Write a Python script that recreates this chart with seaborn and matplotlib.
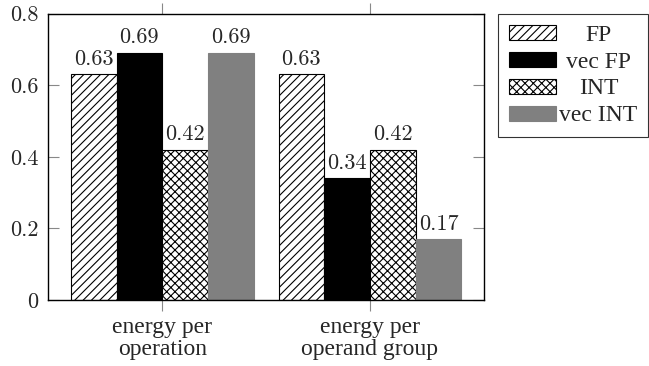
import matplotlib
matplotlib.use('Agg')
import matplotlib.pyplot as plt
import pandas as pd
import seaborn as sns

# Data
metrics = ['energy per\noperation', 'energy per\noperand group']
series = ['FP', 'vec FP', 'INT', 'vec INT']
fp = [0.63, 0.63]
vec_fp = [0.69, 0.34]
int_vals = [0.42, 0.42]
vec_int = [0.69, 0.17]
y_ticks = [0, 0.2, 0.4, 0.6, 0.8]
y_tick_labels = ['0', '0.2', '0.4', '0.6', '0.8']

df = pd.DataFrame({
    'metric': metrics * 4,
    'series': [s for s in series for _ in metrics],
    'value': fp + vec_fp + int_vals + vec_int,
})

sns.set_style('ticks')
plt.rcParams['font.family'] = ['Liberation Serif', 'DejaVu Serif']
plt.rcParams['hatch.linewidth'] = 0.8

num_font = 'cmr10'
num_fs = 16
txt_fs = 17

fig = plt.figure(figsize=(6.49, 3.66), dpi=100)
ax = fig.add_axes([0.074, 0.180, 0.672, 0.783])

palette = {'FP': 'white', 'vec FP': 'black', 'INT': 'white', 'vec INT': '#808080'}
sns.barplot(data=df, x='metric', y='value', hue='series', hue_order=series,
            palette=palette, width=0.88, gap=0, saturation=1, ax=ax)
ax.get_legend().remove()

styles = [('////', 'black'), ('', 'black'), ('xxxx', 'black'), ('', '#808080')]
for cont, (hatch, ec) in zip(ax.containers, styles):
    for p in cont.patches:
        p.set_hatch(hatch)
        p.set_edgecolor(ec)
        p.set_linewidth(0.8)
    ax.bar_label(cont, fmt='%.2f', padding=4, fontsize=num_fs, fontfamily=num_font)

ax.set_xlim(-0.55, 1.55)
ax.set_ylim(0, 0.8)
ax.set_yticks(y_ticks)
ax.set_yticklabels(y_tick_labels, fontfamily=num_font, fontsize=num_fs)
ax.set_xlabel('')
ax.set_ylabel('')
for s in ax.spines.values():
    s.set_visible(True)
    s.set_linewidth(1.0)
    s.set_color('black')

ax.tick_params(axis='y', direction='in', left=True, right=True, length=8,
               color='#888888', pad=7)
ax.tick_params(axis='x', direction='out', top=True, bottom=True, length=8,
               color='#888888', pad=4, labelsize=txt_fs)
for t in ax.get_xticklabels():
    t.set_linespacing(1.05)

handles = [c.patches[0] for c in ax.containers]
leg = ax.legend(handles, series, loc='upper left',
                bbox_to_anchor=(498 / 649, 1 - 14 / 366),
                bbox_transform=fig.transFigure, borderaxespad=0,
                frameon=True, fancybox=False, edgecolor='black',
                fontsize=txt_fs, handlelength=2.0, handleheight=0.6,
                labelspacing=0.25, handletextpad=0.15, borderpad=0.45)
leg.get_frame().set_linewidth(0.8)

# center legend labels in their column like pgfplots
fig.canvas.draw()
r = fig.canvas.get_renderer()
texts = leg.get_texts()
widths = [t.get_window_extent(r).width for t in texts]
wmax = max(widths)
for t, w in zip(texts, widths):
    t.set_position(((wmax - w) / 2, 0))

fig.savefig('out.png', dpi=100)
